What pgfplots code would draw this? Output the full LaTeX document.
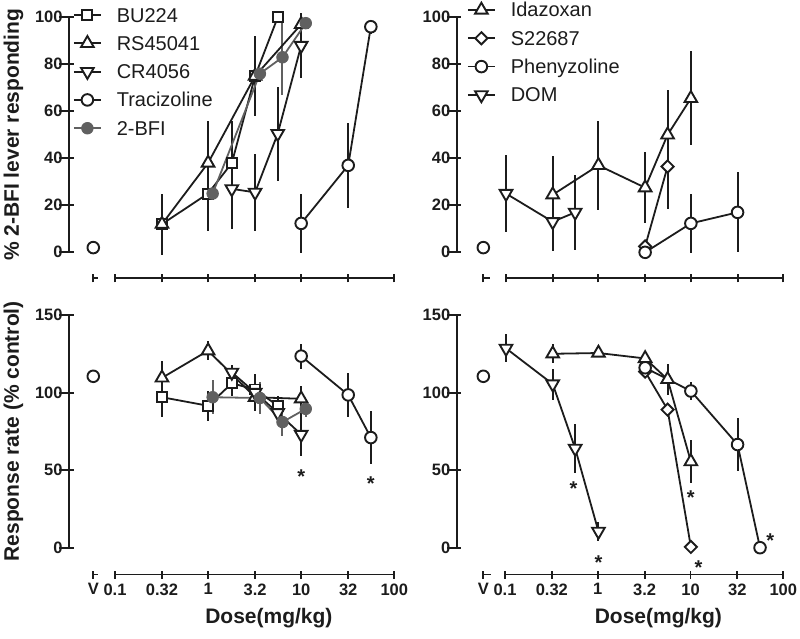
\documentclass[border=0pt]{standalone}
\usepackage{pgfplots}
\usepackage{pgfplotstable}
\pgfplotsset{compat=1.18}
\usepackage{fontspec}
\setmainfont{Liberation Sans}
\definecolor{ink}{RGB}{28,28,28}
\definecolor{bfi}{RGB}{96,96,96}
\newcommand{\tickfont}{\fontsize{16.5}{16.5}\selectfont\bfseries}
\newcommand{\labfont}{\fontsize{21}{21}\selectfont\bfseries}
\newcommand{\legfont}{\fontsize{20}{20}\selectfont}
\newcommand{\starfont}{\fontsize{20}{20}\selectfont\bfseries}

% ---------- top-left: % 2-BFI lever responding
\pgfplotstableread[row sep=\\]{x y e\\ 0.32 12 12\\ 1 25 16\\ 1.8 38 18\\ 3.2 75 16\\ 5.6 100 0\\}\tlBU
\pgfplotstableread[row sep=\\]{x y e\\ 0.32 12 13\\ 1 38 18\\ 3.2 75 17\\ 10 97 3\\}\tlRS
\pgfplotstableread[row sep=\\]{x y e\\ 1.8 27 17\\ 3.2 25.5 16.5\\ 5.6 50.5 20\\ 10 88 14\\}\tlCR
\pgfplotstableread[row sep=\\]{x y e\\ 10 12.3 12.5\\ 32 37 18\\ 56 96 3\\}\tlTR
\pgfplotstableread[row sep=\\]{x y e\\ 1.12 25 0\\ 3.6 76 0\\ 6.3 83 16\\ 11.2 97.5 0\\}\tlBF
% ---------- bottom-left: response rate
\pgfplotstableread[row sep=\\]{x y e\\ 0.32 97 13\\ 1 91.5 9.5\\ 1.8 106 8\\ 3.2 102 10\\ 5.6 91.5 6\\}\blBU
\pgfplotstableread[row sep=\\]{x y e\\ 0.32 109.5 11\\ 1 127 6\\ 3.2 97 9\\ 10 96 8\\}\blRS
\pgfplotstableread[row sep=\\]{x y e\\ 1.8 113 5\\ 3.2 100 10\\ 5.6 87 6\\ 10 73 14\\}\blCR
\pgfplotstableread[row sep=\\]{x y e\\ 10 123.5 8\\ 32 98.5 14\\ 56 71 17\\}\blTR
\pgfplotstableread[row sep=\\]{x y e\\ 1.12 97 11\\ 3.6 96.5 10\\ 6.3 81 9\\ 11.2 89.5 5\\}\blBF
% ---------- top-right
\pgfplotstableread[row sep=\\]{x y e\\ 0.32 24.5 16.5\\ 1 37 19\\ 3.2 27.5 15\\ 5.6 50 19\\ 10 65.5 20\\}\trID
\pgfplotstableread[row sep=\\]{x y e\\ 3.2 2.5 0\\ 5.6 36.5 18\\}\trSS
\pgfplotstableread[row sep=\\]{x y e\\ 3.2 0 0\\ 10 12.3 12.5\\ 32 17 17\\}\trPH
\pgfplotstableread[row sep=\\]{x y e\\ 0.1 25 16.5\\ 0.32 13 12.5\\ 0.56 17 16\\}\trDO
% ---------- bottom-right
\pgfplotstableread[row sep=\\]{x y e\\ 0.32 125 6\\ 1 125.5 2\\ 3.2 122 3\\ 5.6 108.5 10\\ 10 55.5 14\\}\brID
\pgfplotstableread[row sep=\\]{x y e\\ 3.2 113.5 0\\ 5.6 89 0\\ 10 0.5 0\\}\brSS
\pgfplotstableread[row sep=\\]{x y e\\ 3.2 116 0\\ 10 101 6\\ 32 66.5 17\\ 56 0 0\\}\brPH
\pgfplotstableread[row sep=\\]{x y e\\ 0.1 128.5 9\\ 0.32 105.5 10\\ 0.56 64 16\\ 1 10.5 6\\}\brDO

\pgfplotsset{
  mycom/.style={scale only axis, clip=false,
    tick align=outside,
    every tick/.style={ink, line width=1.9pt},
    tick label style={font=\tickfont, text=ink},
    /pgf/number format/assume math mode=true,
  },
  nolinearrows/.style={
    axis line style={-, line width=1.9pt, ink},
    every outer x axis line/.append style={-},
    every outer y axis line/.append style={-},
    every inner x axis line/.append style={-},
    every inner y axis line/.append style={-},
  },
  mydat/.style={mycom, axis x line=none, axis y line=left, nolinearrows,
    xtick=\empty, xminorticks=false, major tick length=9.5pt, ytick pos=left,
    yticklabel style={inner sep=1.5pt},
    every axis y label/.style={at={(axis description cs:-0.1537,0.5)}, rotate=90, anchor=base, font=\labfont, text=ink},
    legend cell align=left,
    legend image code/.code={\draw[mark repeat=2,mark phase=2] plot coordinates {(0pt,0pt)(13.5pt,0pt)(27pt,0pt)};},
  },
  mylow/.style={mycom, ymin=0, ymax=1, height=1pt,
    axis x line=bottom, axis y line=none, nolinearrows, ytick=\empty, xminorticks=false,
    xtick={0.1,0.32,1,3.2,10,32,100}, major tick length=8pt,
    xticklabel style={yshift=-1.5pt},
    every axis x label/.style={at={(axis description cs:0.551,0)}, anchor=base, yshift=-48.8pt, font=\labfont, text=ink},
  },
  myvax/.style={mycom, xmin=0, xmax=1, ymin=0, ymax=1, height=1pt,
    axis x line=bottom, axis y line=none, nolinearrows, ytick=\empty, xtick={0}, major tick length=8pt,
    xticklabel style={yshift=-1.5pt}},
  myleg/.style={legend style={draw=none, fill=none, inner sep=0pt, outer sep=0pt,
    anchor=north west, font=\legfont, text=ink, row sep=10.3pt, column sep=15pt,
    nodes={inner sep=0pt, text height=16pt, text depth=2pt}}},
  axl/.style={forget plot, ink, line width=1.9pt, mark=none},
  ytk/.style={forget plot, only marks, mark=-, mark size=4.75pt, mark options={xshift=-4.75pt, line width=1.9pt, draw=ink}},
  myser/.style={ink, line width=1.8pt},
  mysq/.style={myser, mark=square*, mark size=5pt, mark options={solid, fill=white, draw=ink, line width=1.9pt}},
  mytu/.style={myser, mark=triangle*, mark size=7.3pt, mark options={solid, fill=white, draw=ink, line width=1.9pt}},
  mytd/.style={myser, mark=triangle*, mark size=7.3pt, mark options={solid, fill=white, draw=ink, line width=1.9pt, rotate=180}},
  myci/.style={myser, mark=*, mark size=5.8pt, mark options={solid, fill=white, draw=ink, line width=1.9pt}},
  mydi/.style={myser, mark=square*, mark size=4.3pt, mark options={solid, fill=white, draw=ink, line width=1.9pt, rotate=45}},
  mybf/.style={bfi, line width=1.8pt, mark=*, mark size=5.8pt, mark options={solid, fill=bfi, draw=bfi, line width=0.8pt}},
  myeb/.style={forget plot, only marks, mark=none, ink, line width=2pt,
    error bars/y dir=both, error bars/y explicit, error bars/error mark=none,
    error bars/draw error bar/.code 2 args={\draw[line width=2pt, ink] ##1 -- ##2;}},
  myebg/.style={forget plot, only marks, mark=none, bfi, line width=2pt,
    error bars/y dir=both, error bars/y explicit, error bars/error mark=none,
    error bars/draw error bar/.code 2 args={\draw[line width=2pt, bfi] ##1 -- ##2;}},
  mystar/.style={forget plot, draw=none, mark=none, nodes near coords={*},
    every node near coord/.append style={font=\starfont, text=ink, inner sep=0pt, anchor=center, yshift=-4.3pt}},
}

\begin{document}
\begin{tikzpicture}
\useasboundingbox (0pt,0pt) rectangle (800pt,-638pt);

% ================= TOP LEFT =================
\begin{axis}[mydat, myleg, xmode=log, at={(69pt,-252.3pt)}, anchor=south west, width=325.3pt, height=235pt,
  xmin=0.0321, xmax=100, ymin=0, ymax=100, ytick={0,20,40,60,80,100},
  ylabel={\% 2-BFI lever responding},
  legend style={at={(axis description cs:0.0123,1.048)}}]
  \addplot[axl] coordinates {(0.0321,0) (0.0321,100)};
  \addplot[ytk] coordinates {(0.0321,0) (0.0321,20) (0.0321,40) (0.0321,60) (0.0321,80) (0.0321,100)};
  \addplot[myeb] table[x=x,y=y,y error=e]{\tlBU};
  \addplot[myeb] table[x=x,y=y,y error=e]{\tlRS};
  \addplot[myeb] table[x=x,y=y,y error=e]{\tlCR};
  \addplot[myeb] table[x=x,y=y,y error=e]{\tlTR};
  \addplot[myebg] table[x=x,y=y,y error=e]{\tlBF};
  \addplot[mysq] table[x=x,y=y]{\tlBU};
  \addplot[mytu] table[x=x,y=y]{\tlRS};
  \addplot[mytd] table[x=x,y=y]{\tlCR};
  \addplot[myci] table[x=x,y=y]{\tlTR};
  \addplot[mybf] table[x=x,y=y]{\tlBF};
  \addplot[myci, only marks, forget plot] coordinates {(0.0585,2)};
  \legend{BU224,RS45041,CR4056,Tracizoline,2-BFI}
\end{axis}
\begin{axis}[mylow, xmode=log, xmin=0.1, xmax=100, at={(115pt,-278.3pt)}, anchor=south west, width=279.3pt, xticklabels={}]
  \addplot[axl] coordinates {(0.1,0) (100,0)};
\end{axis}
\begin{axis}[myvax, at={(93.3pt,-278.3pt)}, anchor=south west, width=5pt, xticklabels={}]
  \addplot[axl] coordinates {(0,0) (1,0)};
\end{axis}

% ================= BOTTOM LEFT =================
\begin{axis}[mydat, xmode=log, at={(69pt,-547.7pt)}, anchor=south west, width=325.3pt, height=232.7pt,
  xmin=0.0321, xmax=100, ymin=0, ymax=150, ytick={0,50,100,150},
  ylabel={Response rate (\% control)}]
  \addplot[axl] coordinates {(0.0321,0) (0.0321,150)};
  \addplot[ytk] coordinates {(0.0321,0) (0.0321,50) (0.0321,100) (0.0321,150)};
  \addplot[myeb] table[x=x,y=y,y error=e]{\blBU};
  \addplot[myeb] table[x=x,y=y,y error=e]{\blRS};
  \addplot[myeb] table[x=x,y=y,y error=e]{\blCR};
  \addplot[myeb] table[x=x,y=y,y error=e]{\blTR};
  \addplot[myebg] table[x=x,y=y,y error=e]{\blBF};
  \addplot[mysq] table[x=x,y=y]{\blBU};
  \addplot[mytu] table[x=x,y=y]{\blRS};
  \addplot[mytd] table[x=x,y=y]{\blCR};
  \addplot[myci] table[x=x,y=y]{\blTR};
  \addplot[mybf] table[x=x,y=y]{\blBF};
  \addplot[myci, only marks, forget plot] coordinates {(0.0585,110.5)};
  \addplot[mystar] coordinates {(10,48.5) (56,43.8)};
\end{axis}
\begin{axis}[mylow, xmode=log, xmin=0.1, xmax=100, at={(115pt,-574.5pt)}, anchor=south west, width=279.3pt,
  xticklabels={0.1,0.32,1,3.2,10,32,100}, xlabel={Dose(mg/kg)}]
  \addplot[axl] coordinates {(0.1,0) (100,0)};
\end{axis}
\begin{axis}[myvax, at={(93.3pt,-574.5pt)}, anchor=south west, width=5pt, xticklabels={V}]
  \addplot[axl] coordinates {(0,0) (1,0)};
\end{axis}

% ================= TOP RIGHT =================
\begin{axis}[mydat, myleg, xmode=log, at={(456.7pt,-252.3pt)}, anchor=south west, width=326.6pt, height=235pt,
  xmin=0.02926, xmax=100, ymin=0, ymax=100, ytick={0,20,40,60,80,100},
  legend style={at={(axis description cs:0.0315,1.0694)}}]
  \addplot[axl] coordinates {(0.02926,0) (0.02926,100)};
  \addplot[ytk] coordinates {(0.02926,0) (0.02926,20) (0.02926,40) (0.02926,60) (0.02926,80) (0.02926,100)};
  \addplot[myeb] table[x=x,y=y,y error=e]{\trID};
  \addplot[myeb] table[x=x,y=y,y error=e]{\trSS};
  \addplot[myeb] table[x=x,y=y,y error=e]{\trPH};
  \addplot[myeb] table[x=x,y=y,y error=e]{\trDO};
  \addplot[mytu] table[x=x,y=y]{\trID};
  \addplot[mydi] table[x=x,y=y]{\trSS};
  \addplot[myci] table[x=x,y=y]{\trPH};
  \addplot[mytd] table[x=x,y=y]{\trDO};
  \addplot[myci, only marks, forget plot] coordinates {(0.0568,2)};
  \legend{Idazoxan,S22687,Phenyzoline,DOM}
\end{axis}
\begin{axis}[mylow, xmode=log, xmin=0.1, xmax=100, at={(506pt,-278.3pt)}, anchor=south west, width=277.3pt, xticklabels={}]
  \addplot[axl] coordinates {(0.1,0) (100,0)};
\end{axis}
\begin{axis}[myvax, at={(483.3pt,-278.3pt)}, anchor=south west, width=7pt, xticklabels={}]
  \addplot[axl] coordinates {(0,0) (1,0)};
\end{axis}

% ================= BOTTOM RIGHT =================
\begin{axis}[mydat, xmode=log, at={(456.7pt,-547.7pt)}, anchor=south west, width=326.6pt, height=232.7pt,
  xmin=0.02926, xmax=100, ymin=0, ymax=150, ytick={0,50,100,150}]
  \addplot[axl] coordinates {(0.02926,0) (0.02926,150)};
  \addplot[ytk] coordinates {(0.02926,0) (0.02926,50) (0.02926,100) (0.02926,150)};
  \addplot[myeb] table[x=x,y=y,y error=e]{\brID};
  \addplot[myeb] table[x=x,y=y,y error=e]{\brSS};
  \addplot[myeb] table[x=x,y=y,y error=e]{\brPH};
  \addplot[myeb] table[x=x,y=y,y error=e]{\brDO};
  \addplot[mytu] table[x=x,y=y]{\brID};
  \addplot[mydi] table[x=x,y=y]{\brSS};
  \addplot[myci] table[x=x,y=y]{\brPH};
  \addplot[mytd] table[x=x,y=y]{\brDO};
  \addplot[myci, only marks, forget plot] coordinates {(0.0568,110.5)};
  \addplot[mystar] coordinates {(0.536,40.6) (1,-6.6) (10,35.2) (12.1,-9.9) (72.5,7.3)};
\end{axis}
\begin{axis}[mylow, xmode=log, xmin=0.1, xmax=100, at={(505pt,-574.5pt)}, anchor=south west, width=278.3pt,
  xticklabels={0.1,0.32,1,3.2,10,32,100}, xlabel={Dose(mg/kg)}]
  \addplot[axl] coordinates {(0.1,0) (100,0)};
\end{axis}
\begin{axis}[myvax, at={(483.3pt,-574.5pt)}, anchor=south west, width=8pt, xticklabels={V}]
  \addplot[axl] coordinates {(0,0) (1,0)};
\end{axis}
\end{tikzpicture}
\end{document}
